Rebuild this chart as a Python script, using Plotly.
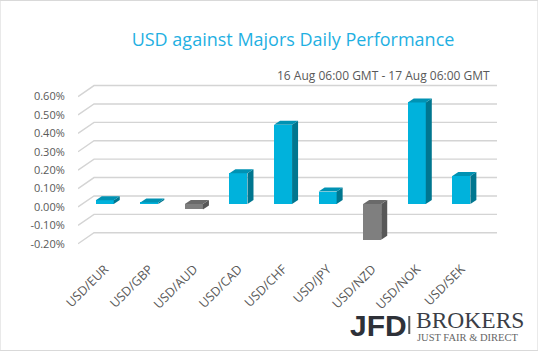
import plotly.graph_objects as go

# ---- data ----
categories = ["USD/EUR", "USD/GBP", "USD/AUD", "USD/CAD", "USD/CHF",
              "USD/JPY", "USD/NZD", "USD/NOK", "USD/SEK"]
values = [0.02, 0.008, -0.03, 0.167, 0.431, 0.067, -0.195, 0.552, 0.152]  # percent
tick_values = [-0.2, -0.1, 0.0, 0.1, 0.2, 0.3, 0.4, 0.5, 0.6]
tick_labels = ["-0.20%", "-0.10%", "0.00%", "0.10%", "0.20%", "0.30%", "0.40%", "0.50%", "0.60%"]
title_text = "USD against Majors Daily Performance"
subtitle_text = "16 Aug 06:00 GMT - 17 Aug 06:00 GMT"

# ---- geometry (pixel-derived constants) ----
PX_X = 44.5      # px per category
PX_Y = 184.0     # px per 1 %
X0, X1 = -0.6, 8.8
Y0, Y1 = -0.234, 0.690
ML, MT = 78.3, 80
PW = (X1 - X0) * PX_X
PH = 170
W, H = 538, 351

bar_w = 18 / PX_X
bar_base = 3 / PX_Y            # bar front sits a bit behind front plane
dx = 6 / PX_X                  # bar depth offset
dy = 4 / PX_Y
wall_dx = 16 / PX_X            # floor/wall depth
wall_dy = 11 / PX_Y

pos_cols = dict(front="#00B2DC", side="#00768F", top="#0092B3")
neg_cols = dict(front="#7F7F7F", side="#575757", top="#6A6A6A")

fig = go.Figure()

# bar side and top faces
for i, v in enumerate(values):
    cols = pos_cols if v >= 0 else neg_cols
    top = bar_base + max(v, 0)
    bot = bar_base + min(v, 0)
    xl, xr = i - bar_w / 2, i + bar_w / 2
    fig.add_trace(go.Scatter(
        x=[xr, xr, xr + dx, xr + dx, xr], y=[bot, top, top + dy, bot + dy, bot],
        mode="lines", fill="toself", fillcolor=cols["side"], line=dict(width=0),
        hoverinfo="skip", showlegend=False))
    fig.add_trace(go.Scatter(
        x=[xl, xr, xr + dx, xl + dx, xl], y=[top, top, top + dy, top + dy, top],
        mode="lines", fill="toself", fillcolor=cols["top"], line=dict(width=0),
        hoverinfo="skip", showlegend=False))

# bar front faces
fig.add_trace(go.Bar(
    x=list(range(len(categories))), y=values, base=bar_base, width=bar_w,
    marker=dict(color=[pos_cols["front"] if v >= 0 else neg_cols["front"] for v in values],
                line=dict(width=0)),
    hoverinfo="skip", showlegend=False))

def px2x(px):
    return (px - ML) / PW

def py2y(py):
    return (MT + PH - py) / PH

annotations = [
    dict(text=subtitle_text, x=px2x(492), y=py2y(75), xref="paper", yref="paper",
         xanchor="right", yanchor="middle", showarrow=False,
         font=dict(family="Open Sans", size=12, color="#595959")),
    dict(text="<b>JFD</b>", x=px2x(348), y=py2y(325), xref="paper", yref="paper",
         xanchor="left", yanchor="middle", showarrow=False,
         font=dict(family="Liberation Sans", size=30, color="#2E3138")),
    dict(text="BROKERS", x=px2x(414), y=py2y(320), xref="paper", yref="paper",
         xanchor="left", yanchor="middle", showarrow=False,
         font=dict(family="Liberation Serif", size=23.5, color="#3B3E46")),
    dict(text="JUST FAIR &amp; DIRECT", x=px2x(415), y=py2y(337.5), xref="paper", yref="paper",
         xanchor="left", yanchor="middle", showarrow=False,
         font=dict(family="Liberation Serif", size=10.5, color="#666666")),
]

shapes = [
    dict(type="rect", xref="paper", yref="paper",
         x0=px2x(0.5), x1=px2x(W - 0.5), y0=py2y(H - 0.5), y1=py2y(0.5),
         line=dict(color="#D9D9D9", width=1), fillcolor="rgba(0,0,0,0)", layer="below"),
    dict(type="line", xref="paper", yref="paper",
         x0=px2x(409), x1=px2x(409), y0=py2y(316), y1=py2y(334),
         line=dict(color="#555555", width=2)),
]
# gridlines on back wall with diagonal on side wall (behind bars)
for v in tick_values:
    shapes.append(dict(
        type="path", xref="x", yref="y", layer="below",
        path=f"M {X0} {v} L {X0 + wall_dx} {v + wall_dy} L {X1} {v + wall_dy}",
        line=dict(color="#D4D4D4", width=1.4)))

fig.update_layout(
    width=W, height=H,
    margin=dict(l=ML, r=W - ML - PW, t=MT, b=H - MT - PH, pad=0),
    paper_bgcolor="white", plot_bgcolor="white",
    title=dict(text=title_text, x=293 / W, y=1 - 40 / H, xref="container", yref="container",
               xanchor="center", yanchor="middle",
               font=dict(family="Open Sans", size=18, color="#1FB0E2")),
    xaxis=dict(range=[X0, X1], tickmode="array", tickvals=list(range(len(categories))),
               ticktext=categories, tickangle=-45, showgrid=False, zeroline=False,
               showline=False, ticks="outside", ticklen=6, tickcolor="rgba(0,0,0,0)",
               tickfont=dict(family="Open Sans", size=12.5, color="#595959")),
    yaxis=dict(range=[Y0, Y1], tickmode="array", tickvals=tick_values, ticktext=tick_labels,
               showgrid=False, zeroline=False, showline=False, ticks="outside", ticklen=10,
               tickcolor="rgba(0,0,0,0)",
               tickfont=dict(family="Open Sans", size=11, color="#595959")),
    annotations=annotations, shapes=shapes, bargap=0,
)

fig.write_html("out.html")
